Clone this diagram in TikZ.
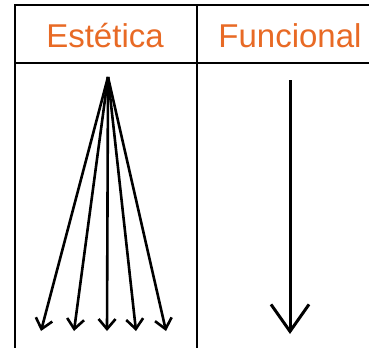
\documentclass[tikz,border=0pt]{standalone}
\usepackage{fontspec}
\setmainfont{Liberation Sans}
\usetikzlibrary{arrows.meta}
\definecolor{hdr}{RGB}{232,106,37}
\begin{document}
\begin{tikzpicture}[x=1pt,y=-1pt,
  grid/.style={line width=2.6pt,black},
  head/.style={text=hdr,font=\fontsize{33}{36}\selectfont,inner sep=0pt,anchor=base},
  thin arrow/.style={line width=2.6pt,-{Straight Barb[length=10pt,width=17pt]}},
  big arrow/.style={line width=3pt,-{Straight Barb[length=27pt,width=38pt]}}]
\useasboundingbox (0,0) rectangle (369,348);
% table lines
\draw[grid] (369,5) -- (15,5) -- (15,348);
\draw[grid] (15,63) -- (369,63);
\draw[grid] (197,5) -- (197,348);
% headers
\node[head] (est) at (105,47) {Estética};
\node[head] (fun) at (290,47) {Funcional};
% left fan of arrows
\coordinate (apex) at (108,77);
\coordinate (e1) at (41,331);
\coordinate (e2) at (74,331);
\coordinate (e3) at (107,331);
\coordinate (e4) at (136,331);
\coordinate (e5) at (166,331);
\foreach \e in {e1,e2,e3,e4,e5}
  \draw[thin arrow] (apex) -- (\e);
% right arrow
\coordinate (ftop) at (290,80);
\coordinate (fend) at (290,334);
\draw[big arrow] (ftop) -- (fend);
\end{tikzpicture}
\end{document}
